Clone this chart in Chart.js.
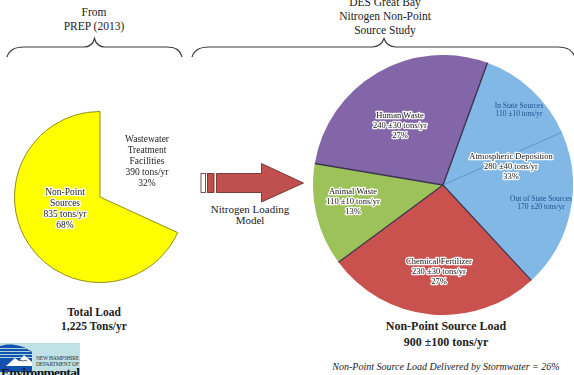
<!DOCTYPE html>
<html>
<head>
<meta charset="utf-8">
<script src="https://cdn.jsdelivr.net/npm/chart.js@4.4.1/dist/chart.umd.min.js"></script>
<style>
  html, body { margin: 0; padding: 0; background: #fff; }
  #page { position: relative; width: 574px; height: 375px; overflow: hidden; font-family: "Liberation Serif", "Times New Roman", serif; color: #222; }
  canvas { position: absolute; }
  #totalPie { left: 14px; top: 111px; }
  #sourcePie { left: 313px; top: 55px; }
  .txt { position: absolute; text-align: center; white-space: nowrap; line-height: 14px; }
  svg { position: absolute; left: 0; top: 0; }
</style>
</head>
<body>
<div id="page">
  <svg width="574" height="375">
    <!-- braces over the two studies -->
    <path d="M7,57 C9,50 14,47 24,47 L84,47 C90,47 93,44 94.5,38.5 C96,44 99,47 105,47 L166,47 C176,47 180,50 182,57"
          fill="none" stroke="#3a3a3a" stroke-width="1.2"/>
    <path d="M192,57 C194,50 199,47 209,47 L372,47 C379,47 382,44 384,38.5 C386,44 389,47 396,47 L558,47 C568,47 573,51 575,57"
          fill="none" stroke="#3a3a3a" stroke-width="1.2"/>
    <!-- loading model arrow -->
    <rect x="201" y="173.5" width="4.5" height="19" fill="#fff" stroke="#5a2422" stroke-width="0.8"/>
    <rect x="207.5" y="173.5" width="6.5" height="19" fill="#c0504d" stroke="#5a2422" stroke-width="0.8"/>
    <polygon points="216.5,173.5 261.5,173.5 261.5,163.5 303.5,183 261.5,202 261.5,192.5 216.5,192.5"
             fill="#c0504d" stroke="#5a2422" stroke-width="0.8"/>
    <!-- NHDES logo -->
    <rect x="0" y="343" width="80" height="32" fill="#bfe2e6"/>
    <path d="M0,372 L0,346 C8,343 22,344 32,352 L32,372 Z" fill="#1452b0"/>
    <g stroke="#bfe2e6" stroke-width="0.9">
      <line x1="0" y1="348.5" x2="26" y2="348.5"/>
      <line x1="0" y1="351.5" x2="30" y2="351.5"/>
      <line x1="0" y1="354.5" x2="32" y2="354.5"/>
      <line x1="0" y1="357.5" x2="32" y2="357.5"/>
    </g>
    <polygon points="6,366 15,358 19,361 24,355 32,362 32,366" fill="#fff"/>
    <path d="M19,361 q2,-1.5 4,0 q2,-1.5 4,0" fill="none" stroke="#222" stroke-width="0.7"/>
    <text x="36" y="360" font-family="Liberation Serif" font-size="5.5" textLength="43" fill="#333">NEW HAMPSHIRE</text>
    <text x="36" y="365.5" font-family="Liberation Serif" font-size="5.5" textLength="43" fill="#333">DEPARTMENT OF</text>
    <text x="1" y="377" font-family="Liberation Serif" font-size="13.5" font-weight="bold" textLength="79" fill="#111">Environmental</text>
  </svg>

  <div class="txt" style="left:44px; top:5px; width:100px; font-size:11.5px;">From<br>PREP (2013)</div>
  <div class="txt" style="left:320px; top:-5px; width:130px; font-size:11.5px;">DES Great Bay<br>Nitrogen Non-Point<br>Source Study</div>
  <div class="txt" style="left:200px; top:204px; width:100px; font-size:11px; line-height:11px;">Nitrogen Loading<br>Model</div>
  <div class="txt" style="left:24px; top:305px; width:140px; font-size:11.5px; font-weight:bold;">Total Load<br>1,225 Tons/yr</div>
  <div class="txt" style="left:366px; top:319px; width:160px; font-size:12px; line-height:15.5px; font-weight:bold;">Non-Point Source Load<br>900 ±100 tons/yr</div>
  <div class="txt" style="left:296px; top:360px; width:300px; font-size:10px; font-style:italic;">Non-Point Source Load Delivered by Stormwater = 26%</div>

  <canvas id="totalPie" width="172" height="172"></canvas>
  <canvas id="sourcePie" width="260" height="260"></canvas>
</div>

<script>
// PREP (2013) total nitrogen load, tons/yr
const totalNames = ["Wastewater Treatment Facilities", "Non-Point Sources"];
const totalValues = [390, 835];
const totalPct = [32, 68];

// DES study: non-point source categories, tons/yr
const categoryNames = ["Atmospheric Deposition", "Chemical Fertilizer", "Animal Waste", "Human Waste"];
const categoryValues = [280, 230, 110, 240];
const categoryErrors = [40, 30, 10, 30];
const categoryPct = [33, 27, 13, 27];

// atmospheric deposition split by origin
const atmoNames = ["In State Sources", "Out of State Sources"];
const atmoValues = [110, 170];
const atmoErrors = [10, 20];

// slices of the study pie: the two atmospheric parts, then the other categories
const sliceNames = [...atmoNames, ...categoryNames.slice(1)];
const sliceValues = [...atmoValues, ...categoryValues.slice(1)];
const sliceColors = ["#82b8e6", "#82b8e6", "#c9514e", "#9dc25a", "#8366a8"];
const sliceEdges = ["#3b3550", "#4d86c0", "#3b3550", "#3b3550", "#3b3550"];
const sliceEdgeWidths = [1.4, 0.8, 1.2, 1.2, 1.4];

const serif = '"Liberation Serif", "Times New Roman", serif';

// radial lines between slices (outer rim left without an outline)
const separatorPlugin = {
  id: "separators",
  afterDatasetsDraw(chart, args, opts) {
    if (!opts.colors) return;
    const ctx = chart.ctx;
    ctx.save();
    chart.getDatasetMeta(0).data.forEach((arc, i) => {
      const { x, y, startAngle, outerRadius } = arc.getProps(["x", "y", "startAngle", "outerRadius"], true);
      ctx.strokeStyle = opts.colors[i];
      ctx.lineWidth = opts.widths[i];
      ctx.beginPath();
      ctx.moveTo(x, y);
      ctx.lineTo(x + Math.cos(startAngle) * outerRadius, y + Math.sin(startAngle) * outerRadius);
      ctx.stroke();
    });
    ctx.restore();
  },
};

// multi-line text blocks placed relative to the pie centre
const blockPlugin = {
  id: "blocks",
  afterDraw(chart, args, opts) {
    if (!opts.items) return;
    const arc = chart.getDatasetMeta(0).data[0];
    const cx = arc.x, cy = arc.y;
    const ctx = chart.ctx;
    ctx.save();
    ctx.textAlign = "center";
    ctx.textBaseline = "middle";
    opts.items.forEach((b) => {
      ctx.font = `${b.size}px ${serif}`;
      const top = cy + b.dy - ((b.lines.length - 1) * b.lh) / 2;
      b.lines.forEach((line, k) => {
        const ty = top + k * b.lh;
        if (b.halo) {
          ctx.strokeStyle = "rgba(255,255,255,0.95)";
          ctx.lineWidth = 2.6;
          ctx.lineJoin = "round";
          ctx.strokeText(line, cx + b.dx, ty);
        }
        ctx.fillStyle = b.color;
        ctx.fillText(line, cx + b.dx, ty);
      });
    });
    ctx.restore();
  },
};

function loadLine(v, e) {
  return e != null ? `${v} ±${e} tons/yr` : `${v} tons/yr`;
}

const baseOptions = {
  responsive: false,
  animation: false,
  events: [],
  layout: { padding: 0 },
};

// left pie: total load
new Chart(document.getElementById("totalPie"), {
  type: "pie",
  data: {
    labels: totalNames,
    datasets: [
      {
        data: totalValues,
        backgroundColor: ["rgba(255,255,255,0)", "#ffff00"],
        borderColor: ["rgba(0,0,0,0)", "#8f8f1a"],
        borderWidth: [0, 1],
      },
    ],
  },
  options: {
    ...baseOptions,
    plugins: {
      legend: { display: false },
      tooltip: { enabled: false },
      blocks: {
        items: [
          { lines: ["Wastewater", "Treatment", "Facilities", loadLine(totalValues[0]), `${totalPct[0]}%`],
            dx: 47, dy: -36, lh: 11, size: 9.5, color: "#222", halo: false },
          { lines: ["Non-Point", "Sources", loadLine(totalValues[1]), `${totalPct[1]}%`],
            dx: -35, dy: 12, lh: 11, size: 9.5, color: "#222", halo: true },
        ],
      },
    },
  },
  plugins: [blockPlugin],
});

// right pie: non-point source breakdown
new Chart(document.getElementById("sourcePie"), {
  type: "pie",
  data: {
    labels: sliceNames,
    datasets: [
      {
        data: sliceValues,
        backgroundColor: sliceColors,
        borderWidth: 0,
      },
    ],
  },
  options: {
    ...baseOptions,
    rotation: 20,
    plugins: {
      legend: { display: false },
      tooltip: { enabled: false },
      separators: { colors: sliceEdges, widths: sliceEdgeWidths },
      blocks: {
        items: [
          { lines: [categoryNames[3], loadLine(categoryValues[3], categoryErrors[3]), `${categoryPct[3]}%`],
            dx: -43, dy: -59, lh: 10, size: 8.5, color: "#222", halo: true },
          { lines: [atmoNames[0], loadLine(atmoValues[0], atmoErrors[0])],
            dx: 76, dy: -75, lh: 8.5, size: 7.5, color: "#1f4f8f", halo: false },
          { lines: [categoryNames[0], loadLine(categoryValues[0], categoryErrors[0]), `${categoryPct[0]}%`],
            dx: 68, dy: -18.5, lh: 10, size: 8.5, color: "#222", halo: true },
          { lines: [atmoNames[1], loadLine(atmoValues[1], atmoErrors[1])],
            dx: 98, dy: 18, lh: 8.5, size: 7.5, color: "#1f4f8f", halo: false },
          { lines: [categoryNames[2], loadLine(categoryValues[2], categoryErrors[2]), `${categoryPct[2]}%`],
            dx: -90, dy: 16.5, lh: 10, size: 8.5, color: "#222", halo: true },
          { lines: [categoryNames[1], loadLine(categoryValues[1], categoryErrors[1]), `${categoryPct[1]}%`],
            dx: -4, dy: 87, lh: 10, size: 8.5, color: "#222", halo: true },
        ],
      },
    },
  },
  plugins: [separatorPlugin, blockPlugin],
});
</script>
</body>
</html>
